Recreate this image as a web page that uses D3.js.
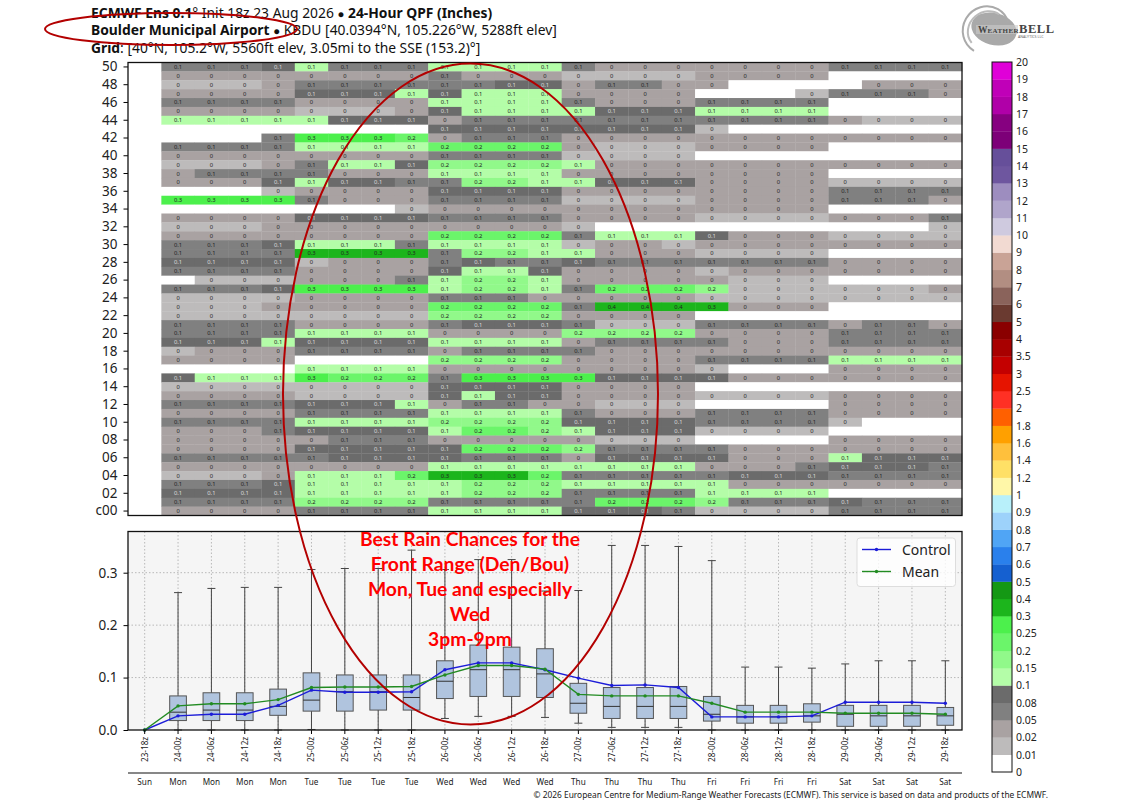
<!DOCTYPE html>
<html>
<head>
<meta charset="utf-8">
<script src="https://cdn.jsdelivr.net/npm/d3@7"></script>
<style>
  body { margin: 0; background: #fff; }
  text { font-family: "Noto Sans", sans-serif; }
</style>
</head>
<body>
<div id="wrapper"></div>
<script>
const steps = ["23-18z","24-00z","24-06z","24-12z","24-18z","25-00z","25-06z","25-12z","25-18z","26-00z","26-06z","26-12z","26-18z","27-00z","27-06z","27-12z","27-18z","28-00z","28-06z","28-12z","28-18z","29-00z","29-06z","29-12z","29-18z"]
const days = ["Sun","Mon","Mon","Mon","Mon","Tue","Tue","Tue","Tue","Wed","Wed","Wed","Wed","Thu","Thu","Thu","Thu","Fri","Fri","Fri","Fri","Sat","Sat","Sat","Sat"]

// ensemble members top to bottom, 50 ... 00
const members = ["50","49","48","47","46","45","44","43","42","41","40","39","38","37","36","35","34","33","32","31","30","29","28","27","26","25","24","23","22","21","20","19","18","17","16","15","14","13","12","11","10","09","08","07","06","05","04","03","02","01","c00"]
const memberTicks = ["50","48","46","44","42","40","38","36","34","32","30","28","26","24","22","20","18","16","14","12","10","08","06","04","02","c00"]

// 24-hour qpf in hundredths of an inch, one row per member, one value per step from 24-00z on
const qpfRows = [
  [6,6,6,9,12,6,6,6,12,12,12,12,6,3,3,3,3,3,3,3,6,6,6,6],
  [3,3,3,3,3,3,3,3,6,3,3,3,1,1,1,1,3,3,3,3,0,0,0,0],
  [1,1,1,3,6,6,6,6,6,6,9,9,3,6,6,3,3,0,0,0,0,3,3,3],
  [3,3,3,3,9,9,9,12,9,12,12,12,3,3,3,3,0,0,0,1,6,6,6,3],
  [6,6,6,6,3,3,3,3,12,12,12,12,6,3,3,3,6,6,6,6,0,0,0,0],
  [3,3,3,3,1,1,1,3,9,12,12,12,12,9,9,9,12,12,12,12,0,0,0,0],
  [12,12,12,12,12,9,9,9,3,6,6,6,6,6,6,6,6,6,6,6,3,1,1,1],
  [0,0,0,0,0,0,0,0,9,9,9,9,9,9,9,9,1,0,0,0,0,0,0,0],
  [0,0,0,6,28,28,28,22,3,6,6,6,3,3,3,3,3,3,3,3,3,3,3,3],
  [6,6,6,6,12,12,12,12,22,22,22,22,3,1,1,1,3,3,3,3,0,0,0,0],
  [3,3,3,3,3,3,3,3,6,6,6,6,1,1,1,1,0,0,0,0,0,0,0,0],
  [1,1,1,3,6,12,12,9,17,17,17,17,12,3,3,3,3,3,3,3,3,3,3,3],
  [3,6,6,6,6,3,3,3,12,12,12,12,3,3,3,3,3,3,3,3,0,0,0,0],
  [3,3,3,9,12,9,9,6,6,17,17,12,12,9,9,9,3,3,3,3,1,1,1,1],
  [0,0,0,1,3,3,3,3,9,9,9,9,3,3,3,3,3,3,3,3,6,6,6,6],
  [28,28,28,28,6,3,3,3,6,6,6,6,1,1,1,1,3,3,3,3,6,6,6,3],
  [0,0,0,0,0,0,0,1,3,3,3,3,3,3,3,3,3,3,3,3,0,0,0,0],
  [3,3,3,3,9,9,9,9,6,6,6,6,3,3,3,3,1,1,1,1,3,3,3,6],
  [1,1,1,3,3,3,3,3,3,3,3,3,1,0,0,0,0,0,0,0,0,0,0,1],
  [3,3,3,3,3,3,3,3,22,22,22,22,6,12,12,12,9,3,3,3,1,1,1,1],
  [6,6,6,9,12,12,12,6,12,12,12,12,1,3,3,1,3,3,3,3,3,3,3,3],
  [6,6,6,6,33,33,33,33,6,17,17,12,12,3,3,3,1,1,1,1,0,0,0,0],
  [9,9,9,9,1,3,3,3,6,9,6,6,9,6,6,6,6,6,6,6,3,3,3,3],
  [6,6,6,6,3,3,3,3,9,12,12,9,3,3,3,3,1,3,3,3,3,3,3,3],
  [0,1,1,1,3,3,3,6,12,17,17,12,3,3,3,3,3,1,1,1,0,0,0,0],
  [6,6,6,9,28,28,28,28,12,17,17,12,6,22,22,22,17,1,1,1,1,1,1,3],
  [1,1,1,1,3,3,3,3,6,6,6,3,3,3,3,3,1,1,1,1,1,1,1,1],
  [1,1,1,3,3,3,3,3,22,22,22,22,6,38,38,38,33,3,3,3,0,0,0,0],
  [1,1,1,1,1,1,1,1,17,17,17,17,3,3,3,3,0,0,0,0,0,0,0,0],
  [6,6,6,6,3,3,3,3,6,9,9,9,6,1,1,1,6,6,6,6,3,6,6,3],
  [6,6,6,6,12,12,12,12,3,3,3,3,17,17,17,17,3,3,3,3,6,6,6,6],
  [9,9,9,12,9,9,9,9,12,12,12,12,3,6,6,6,6,3,3,3,6,6,6,6],
  [1,3,3,3,6,6,6,6,3,6,6,6,6,3,3,3,3,3,3,3,3,3,3,3],
  [3,3,3,3,0,0,0,0,17,17,17,17,3,3,3,3,6,6,6,6,12,12,12,12],
  [0,0,0,0,12,12,12,12,3,3,3,3,3,3,3,3,1,0,0,0,3,3,3,3],
  [9,12,12,12,28,22,22,22,6,28,28,28,28,9,9,9,9,3,3,3,3,3,3,3],
  [1,1,1,1,1,1,1,1,9,9,9,9,3,3,3,3,0,0,0,0,0,0,0,0],
  [3,3,3,3,1,1,1,1,9,12,9,9,3,3,3,3,1,1,1,1,3,3,3,3],
  [6,6,6,6,9,9,9,12,3,6,6,3,3,1,1,1,0,0,0,0,3,3,3,3],
  [3,3,3,3,6,6,6,6,12,12,12,12,6,3,3,3,6,6,6,6,3,3,3,3],
  [6,6,6,6,12,12,12,12,17,17,17,17,9,9,9,9,6,6,6,6,1,0,0,0],
  [3,3,3,6,9,9,9,9,12,22,22,17,12,9,9,9,1,1,1,1,0,0,0,0],
  [3,3,3,3,3,6,6,6,3,3,3,3,3,1,1,1,0,0,0,0,3,3,3,3],
  [3,3,3,3,9,9,9,9,9,22,22,22,17,6,6,6,6,3,3,3,3,3,3,3],
  [6,6,6,6,6,9,9,9,9,6,6,6,3,9,9,9,9,3,3,3,12,9,9,9],
  [3,3,3,3,3,3,3,3,12,12,12,12,12,12,12,12,3,3,3,6,9,9,9,6],
  [1,1,1,3,12,12,12,22,33,33,33,22,6,6,6,6,6,9,9,9,6,6,6,6],
  [6,6,6,9,12,12,12,12,12,17,17,17,12,12,12,12,12,3,3,3,3,3,3,3],
  [9,9,9,9,12,12,12,12,12,17,17,17,6,6,6,6,12,12,12,12,0,0,0,0],
  [6,6,6,6,17,17,17,17,6,6,6,6,6,22,22,22,17,6,6,6,9,6,6,6],
  [3,3,3,3,6,6,6,6,12,12,12,12,9,9,9,6,1,1,1,1,6,6,6,6],
]

// box plot, inches, one value per step
const whiskerHigh = [0,.262,.270,.272,.272,.306,.308,.308,.343,.306,.325,.325,.265,.266,.352,.352,.350,.323,.120,.120,.118,.126,.132,.132,.132]
const boxHigh = [0,.065,.071,.071,.078,.109,.105,.105,.105,.132,.162,.158,.155,.089,.081,.081,.083,.064,.047,.047,.050,.047,.047,.047,.043]
const boxMedian = [0,.034,.038,.038,.045,.057,.073,.073,.062,.093,.115,.115,.107,.051,.045,.045,.045,.030,.025,.025,.027,.030,.027,.027,.027]
const boxLow = [0,.018,.018,.018,.028,.036,.036,.038,.038,.060,.064,.064,.062,.032,.022,.022,.022,.017,.013,.013,.015,.007,.007,.007,.009]
const whiskerLow = [0,0,0,0,0,.001,0,0,0,.022,.026,.026,.024,.013,.005,.005,.005,0,0,0,0,0,0,0,0]
const control = [0,.027,.030,.030,.047,.076,.072,.072,.073,.115,.128,.128,.115,.099,.085,.086,.081,.025,.025,.025,.027,.053,.053,.053,.051]
const mean = [0,.046,.050,.050,.058,.081,.082,.082,.083,.105,.123,.123,.116,.068,.065,.065,.065,.051,.034,.034,.034,.032,.032,.032,.030]

// colour bar
const barLevels = [0,.01,.02,.05,.08,.1,.15,.2,.25,.3,.4,.5,.6,.7,.8,.9,1,1.2,1.4,1.6,1.8,2,2.5,3,3.5,4,5,6,7,8,9,10,11,12,13,14,15,16,17,18,19,20]
const barColors = ["#ffffff","#bdbbbb","#a9a2a2","#808080","#6b6b6b","#b4fda8","#91f98a","#6bf56a","#4cf04c","#1cb51c","#149814","#1560d0","#2a80ec","#50a5f5","#9dd2fa","#b8f0fa","#fff7a8","#ffe066","#ffc03c","#ffa000","#ff6000","#ff3024","#e61400","#c40000","#a80000","#8a0000","#6a3a30","#8a635b","#b28e82","#c9a396","#f2dad2","#cfcadf","#b0a5cb","#9d8dbf","#6e569f","#664f9a","#7d0078","#860080","#b000a8","#c000b8","#e000d8"]

const noteLines = ["Best Rain Chances for the","Front Range (Den/Bou)","Mon, Tue and especially","Wed","3pm-9pm"]
const yTicksLow = [0,.1,.2,.3]

const dimensions = {
  width: 1146,
  height: 806,
  left: 128,
  right: 962,
  gridTop: 62.5,
  gridBottom: 515.5,
  boxTop: 531.5,
  boxBottom: 730,
}

const wrapper = d3.select("#wrapper").append("svg")
  .attr("width", dimensions.width)
  .attr("height", dimensions.height)
  .style("display", "block")

// titles
const titleLines = [
  [["ECMWF Ens 0.1", 700], ["° Init 18z 23 Aug 2026 ", 400], ["●", 400, "11.5px"], [" 24-Hour QPF (Inches)", 700]],
  [["Boulder Municipal Airport ", 700], ["●", 400, "11.5px"], [" KBDU [40.0394°N, 105.226°W, 5288ft elev]", 400]],
  [["Grid", 700], [": [40°N, 105.2°W, 5560ft elev, 3.05mi to the SSE (153.2)°]", 400]],
]
titleLines.forEach((line, i) => {
  const t = wrapper.append("text")
    .attr("x", 91)
    .attr("y", 18 + i * 17.3)
    .style("font-size", "13.85px")
    .attr("fill", "#111")
  line.forEach(part => t.append("tspan")
    .attr("font-weight", part[1])
    .style("font-size", part[2] || null)
    .text(part[0]))
})

// shared scales, first column stays empty in the grid
const xScale = d3.scaleBand().domain(steps).range([dimensions.left, dimensions.right])
const yBand = d3.scaleBand().domain(members).range([dimensions.gridTop, dimensions.gridBottom])
const color = d3.scaleThreshold().domain(barLevels.slice(1, -1)).range(barColors)
const cellLabel = v => String(+v.toFixed(1))

const cells = qpfRows.flatMap((row, r) => row.map((v, c) => ({
  member: members[r],
  step: steps[c + 1],
  value: v / 100,
})))

const gridG = wrapper.append("g")
gridG.selectAll("rect")
  .data(cells)
  .enter().append("rect")
  .attr("x", d => xScale(d.step))
  .attr("y", d => yBand(d.member))
  .attr("width", xScale.bandwidth() + 0.3)
  .attr("height", yBand.bandwidth() + 0.3)
  .attr("fill", d => color(d.value))

gridG.selectAll("text")
  .data(cells.filter(d => d.value >= .01))
  .enter().append("text")
  .attr("x", d => xScale(d.step) + xScale.bandwidth() / 2)
  .attr("y", d => yBand(d.member) + yBand.bandwidth() / 2 + 2)
  .attr("text-anchor", "middle")
  .attr("fill", d => d.value >= .08 && d.value < .1 ? "#ddd" : "#222")
  .style("font-size", "5.8px")
  .text(d => cellLabel(d.value))

const yAxisGrid = d3.axisLeft(yBand)
  .tickValues(memberTicks)
  .tickSize(4.5)
  .tickPadding(6)
const gridAxis = wrapper.append("g")
  .attr("transform", `translate(${dimensions.left},0)`)
  .call(yAxisGrid)
gridAxis.select(".domain").remove()
gridAxis.selectAll("text").style("font-size", "13.5px").attr("fill", "#222")

wrapper.append("rect")
  .attr("x", dimensions.left)
  .attr("y", dimensions.gridTop)
  .attr("width", dimensions.right - dimensions.left)
  .attr("height", dimensions.gridBottom - dimensions.gridTop)
  .attr("fill", "none")
  .attr("stroke", "#111")
  .attr("stroke-width", 1.3)

// box plot panel
const yScale = d3.scaleLinear()
  .domain([0, .3])
  .range([dimensions.boxBottom, 572.7])
const boxWidth = xScale.bandwidth() / 2
const centre = i => xScale(steps[i]) + xScale.bandwidth() / 2

wrapper.append("rect")
  .attr("x", dimensions.left)
  .attr("y", dimensions.boxTop)
  .attr("width", dimensions.right - dimensions.left)
  .attr("height", dimensions.boxBottom - dimensions.boxTop)
  .attr("fill", "#f5f5f5")

const gridLines = wrapper.append("g")
  .attr("stroke", "#b8b8b8")
  .attr("stroke-dasharray", "1.5,2")
gridLines.selectAll("line.h")
  .data(yTicksLow.slice(1))
  .enter().append("line")
  .attr("class", "h")
  .attr("x1", dimensions.left)
  .attr("x2", dimensions.right)
  .attr("y1", d => yScale(d))
  .attr("y2", d => yScale(d))
gridLines.selectAll("line.v")
  .data(steps)
  .enter().append("line")
  .attr("class", "v")
  .attr("x1", (d, i) => centre(i))
  .attr("x2", (d, i) => centre(i))
  .attr("y1", dimensions.boxTop)
  .attr("y2", dimensions.boxBottom)

const boxes = wrapper.append("g")
  .selectAll("g")
  .data(d3.range(1, steps.length))
  .enter().append("g")

boxes.append("line")
  .attr("x1", centre).attr("x2", centre)
  .attr("y1", i => yScale(whiskerHigh[i]))
  .attr("y2", i => yScale(whiskerLow[i]))
  .attr("stroke", "#444")
  .attr("stroke-width", 1)
boxes.append("line")
  .attr("x1", i => centre(i) - 4).attr("x2", i => centre(i) + 4)
  .attr("y1", i => yScale(whiskerHigh[i]))
  .attr("y2", i => yScale(whiskerHigh[i]))
  .attr("stroke", "#444")
boxes.append("line")
  .attr("x1", i => centre(i) - 4).attr("x2", i => centre(i) + 4)
  .attr("y1", i => yScale(whiskerLow[i]))
  .attr("y2", i => yScale(whiskerLow[i]))
  .attr("stroke", "#444")
boxes.append("rect")
  .attr("x", i => centre(i) - boxWidth / 2)
  .attr("y", i => yScale(boxHigh[i]))
  .attr("width", boxWidth)
  .attr("height", i => yScale(boxLow[i]) - yScale(boxHigh[i]))
  .attr("fill", "#b0c4de")
  .attr("stroke", "#555")
boxes.append("line")
  .attr("x1", i => centre(i) - boxWidth / 2).attr("x2", i => centre(i) + boxWidth / 2)
  .attr("y1", i => yScale(boxMedian[i]))
  .attr("y2", i => yScale(boxMedian[i]))
  .attr("stroke", "#333")

const lineGenerator = d3.line()
  .x((d, i) => centre(i))
  .y(d => yScale(d))

const series = [
  { name: "Control", values: control, stroke: "#1c1cd8" },
  { name: "Mean", values: mean, stroke: "#228b22" },
]
series.forEach(s => {
  wrapper.append("path")
    .attr("d", lineGenerator(s.values))
    .attr("fill", "none")
    .attr("stroke", s.stroke)
    .attr("stroke-width", 1.4)
  wrapper.append("g").selectAll("circle")
    .data(s.values)
    .enter().append("circle")
    .attr("cx", (d, i) => centre(i))
    .attr("cy", d => yScale(d))
    .attr("r", 1.7)
    .attr("fill", s.stroke)
})

const yAxisLow = d3.axisLeft(yScale)
  .tickValues(yTicksLow)
  .tickFormat(d3.format(".1f"))
  .tickSize(4.5)
  .tickPadding(6)
const lowAxis = wrapper.append("g")
  .attr("transform", `translate(${dimensions.left},0)`)
  .call(yAxisLow)
lowAxis.select(".domain").remove()
lowAxis.selectAll("text").style("font-size", "13.5px").attr("fill", "#222")

const xAxisLow = d3.axisBottom(xScale).tickSize(4).tickPadding(0).tickFormat("")
const stepAxis = wrapper.append("g")
  .attr("transform", `translate(0,${dimensions.boxBottom})`)
  .call(xAxisLow)
stepAxis.select(".domain").remove()

wrapper.append("g").selectAll("text")
  .data(steps)
  .enter().append("text")
  .attr("transform", (d, i) => `translate(${centre(i) + 3},762) rotate(-90)`)
  .attr("fill", "#222")
  .style("font-size", "8.2px")
  .text(d => d)

wrapper.append("rect")
  .attr("x", dimensions.left)
  .attr("y", dimensions.boxTop)
  .attr("width", dimensions.right - dimensions.left)
  .attr("height", dimensions.boxBottom - dimensions.boxTop)
  .attr("fill", "none")
  .attr("stroke", "#111")
  .attr("stroke-width", 1.3)

// legend
const legend = wrapper.append("g")
legend.append("rect")
  .attr("x", 857).attr("y", 538)
  .attr("width", 98.5).attr("height", 48.5)
  .attr("rx", 3)
  .attr("fill", "#fff").attr("fill-opacity", .8)
  .attr("stroke", "#ddd")
series.forEach((s, i) => {
  const ly = 549.5 + i * 22
  legend.append("line")
    .attr("x1", 862).attr("x2", 891)
    .attr("y1", ly).attr("y2", ly)
    .attr("stroke", s.stroke).attr("stroke-width", 1.4)
  legend.append("circle")
    .attr("cx", 876.5).attr("cy", ly).attr("r", 1.7)
    .attr("fill", s.stroke)
  legend.append("text")
    .attr("x", 902).attr("y", ly + 5)
    .attr("fill", "#222")
    .style("font-size", "14px")
    .text(s.name)
})

// bottom axis with day names
wrapper.append("line")
  .attr("x1", dimensions.left).attr("x2", dimensions.right)
  .attr("y1", 773).attr("y2", 773)
  .attr("stroke", "#111")
  .attr("stroke-width", 1.2)
wrapper.append("g").selectAll("text")
  .data(days)
  .enter().append("text")
  .attr("x", (d, i) => centre(i))
  .attr("y", 785)
  .attr("text-anchor", "middle")
  .attr("fill", "#222")
  .style("font-size", "8.2px")
  .text(d => d)
wrapper.append("text")
  .attr("x", 533.5).attr("y", 798)
  .attr("fill", "#222")
  .style("font-size", "8.4px")
  .text("© 2026 European Centre for Medium-Range Weather Forecasts (ECMWF). This service is based on data and products of the ECMWF.")

// colour bar
const barX = 992
const barW = 20
const barScale = d3.scalePoint().domain(barLevels).range([772, 62])
wrapper.append("g").selectAll("rect")
  .data(barColors)
  .enter().append("rect")
  .attr("x", barX)
  .attr("y", (d, i) => barScale(barLevels[i + 1]))
  .attr("width", barW)
  .attr("height", (d, i) => barScale(barLevels[i]) - barScale(barLevels[i + 1]) + .3)
  .attr("fill", d => d)
wrapper.append("rect")
  .attr("x", barX).attr("y", 62)
  .attr("width", barW).attr("height", 710)
  .attr("fill", "none")
  .attr("stroke", "#111")
  .attr("stroke-width", 1)
wrapper.append("g").selectAll("text")
  .data(barLevels)
  .enter().append("text")
  .attr("x", barX + barW + 4)
  .attr("y", d => barScale(d) + 4)
  .attr("fill", "#222")
  .style("font-size", "10.5px")
  .text(d => d)

// logo
const logo = wrapper.append("g")
logo.append("ellipse").attr("cx", 994).attr("cy", 29).attr("rx", 23).attr("ry", 16)
  .attr("transform", "rotate(15 994 29)")
  .attr("fill", "#a9a9a9")
logo.append("ellipse").attr("cx", 987).attr("cy", 30).attr("rx", 24).attr("ry", 23)
  .attr("fill", "none").attr("stroke", "#fff").attr("stroke-width", 3)
  .attr("stroke-dasharray", "60,90").attr("transform", "rotate(150 987 30)")
logo.append("ellipse").attr("cx", 986).attr("cy", 30).attr("rx", 24).attr("ry", 23)
  .attr("fill", "none").attr("stroke", "#aaa").attr("stroke-width", 2)
  .attr("stroke-dasharray", "90,60").attr("transform", "rotate(120 986 30)")
logo.append("ellipse").attr("cx", 987).attr("cy", 30).attr("rx", 20).attr("ry", 18)
  .attr("fill", "none").attr("stroke", "#bbb").attr("stroke-width", 2)
  .attr("stroke-dasharray", "55,70").attr("transform", "rotate(140 987 30)")
logo.append("rect").attr("x", 976).attr("y", 25).attr("width", 42).attr("height", 9)
  .attr("fill", "#ccc").attr("fill-opacity", .6)
wrapper.append("text")
  .attr("x", 978).attr("y", 33)
  .attr("fill", "#444")
  .style("font-family", "'Liberation Serif', serif")
  .style("font-weight", 700)
  .html('<tspan style="font-size:9.5px">W</tspan><tspan style="font-size:7px" letter-spacing="0.4">EATHER</tspan><tspan style="font-size:12.5px" letter-spacing="0.6">BELL</tspan>')
wrapper.append("text")
  .attr("x", 1018).attr("y", 37.5)
  .attr("fill", "#666")
  .style("font-size", "3.6px")
  .text("ANALYTICS LLC")

// hand drawn annotation on top
const ann = wrapper.append("g")
ann.append("ellipse")
  .attr("cx", 470.5).attr("cy", 394)
  .attr("rx", 187.5).attr("ry", 330.5)
  .attr("fill", "none").attr("stroke", "#b30000").attr("stroke-width", 2)
ann.append("ellipse")
  .attr("cx", 171).attr("cy", 29)
  .attr("rx", 126).attr("ry", 16)
  .attr("fill", "none").attr("stroke", "#b30000").attr("stroke-width", 2)
ann.selectAll("text")
  .data(noteLines)
  .enter().append("text")
  .attr("x", 470)
  .attr("y", (d, i) => 546 + i * 25)
  .attr("text-anchor", "middle")
  .attr("fill", "#ff0000")
  .style("font-family", "Lato, sans-serif")
  .style("font-size", "19.3px")
  .style("font-weight", 700)
  .text(d => d)
</script>
</body>
</html>
